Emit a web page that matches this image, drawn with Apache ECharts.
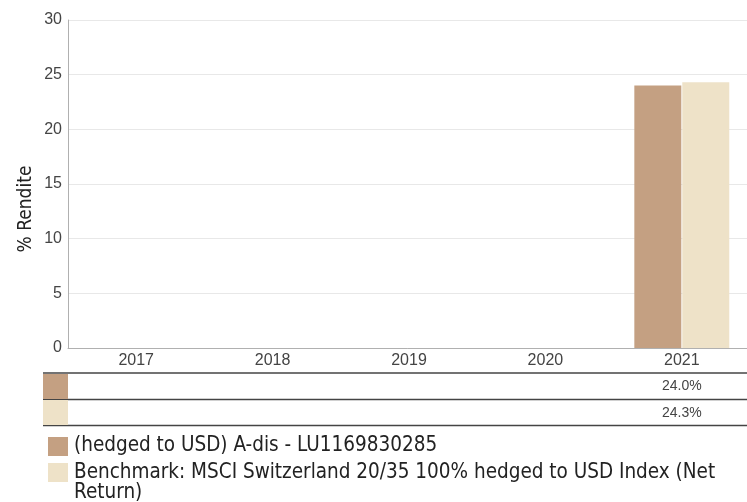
<!DOCTYPE html>
<html lang="de">
<head>
    <meta charset="UTF-8">
    <title>Rendite</title>
    <style>
        html, body { margin: 0; padding: 0; background: #fff; }
    </style>
</head>
<body>
<div id="main" style="width:747px;height:502px;"></div>
<script src="https://cdn.jsdelivr.net/npm/echarts@6/dist/echarts.min.js"></script>
<script>
    // Daten
    var years = ['2017', '2018', '2019', '2020', '2021'];
    var fundValues = [null, null, null, null, 24.0];
    var benchValues = [null, null, null, null, 24.3];
    var yTicks = [0, 5, 10, 15, 20, 25, 30];
    var fundName = '(hedged to USD) A-dis - LU1169830285';
    var benchName = 'Benchmark: MSCI Switzerland 20/35 100% hedged to USD Index (Net Return)';
    var colors = ['#c4a082', '#eee2c8'];

    function fmt(arr) {
        return arr.map(function (v) { return v == null ? '' : v.toFixed(1) + '%'; });
    }

    var axisFont = 'Liberation Sans, Arial, sans-serif';
    var legendFont = 'DejaVu Sans Condensed, DejaVu Sans, sans-serif';

    var myChart = echarts.init(document.getElementById('main'));

    var option = {
        backgroundColor: '#fff',
        animation: false,
        grid: {
            left: 68,
            width: 682,
            top: 20,
            bottom: 154,
            outerBoundsMode: 'none'
        },
        xAxis: [
            {
                type: 'category',
                data: years,
                axisLine: { lineStyle: { color: '#b0b0b0', width: 1 } },
                axisTick: { show: false },
                axisLabel: { color: '#444', fontSize: 16, fontFamily: axisFont, margin: 5 }
            },
            {
                type: 'category',
                data: fmt(fundValues),
                position: 'bottom',
                offset: 25,
                axisLine: { show: false },
                axisTick: { show: false },
                axisLabel: { color: '#444', fontSize: 14, fontFamily: axisFont, margin: 6, interval: 0 }
            },
            {
                type: 'category',
                data: fmt(benchValues),
                position: 'bottom',
                offset: 52,
                axisLine: { show: false },
                axisTick: { show: false },
                axisLabel: { color: '#444', fontSize: 14, fontFamily: axisFont, margin: 6, interval: 0 }
            }
        ],
        yAxis: {
            type: 'value',
            min: yTicks[0],
            max: yTicks[yTicks.length - 1],
            interval: 5,
            axisLine: { show: true, lineStyle: { color: '#b0b0b0', width: 1 } },
            axisTick: { show: false },
            axisLabel: { color: '#444', fontSize: 16, fontFamily: axisFont, margin: 6 },
            splitLine: { lineStyle: { color: '#e8e8e8', width: 1 } }
        },
        series: [
            {
                name: fundName,
                type: 'bar',
                barWidth: 47,
                barGap: '2%',
                itemStyle: { color: colors[0] },
                data: fundValues
            },
            {
                name: benchName,
                type: 'bar',
                barWidth: 47,
                barGap: '2%',
                itemStyle: { color: colors[1] },
                data: benchValues
            }
        ],
        graphic: [
            // Achsentitel
            {
                type: 'text',
                x: 26,
                y: 209,
                rotation: Math.PI / 2,
                style: {
                    text: '% Rendite',
                    fill: '#222',
                    fontSize: 19,
                    fontFamily: legendFont,
                    align: 'center',
                    verticalAlign: 'middle'
                }
            },
            // Tabelle unter der Grafik
            { type: 'line', shape: { x1: 43, y1: 373, x2: 747, y2: 373 }, style: { stroke: '#444', lineWidth: 1.5 } },
            { type: 'line', shape: { x1: 43, y1: 399.5, x2: 747, y2: 399.5 }, style: { stroke: '#444', lineWidth: 1.5 } },
            { type: 'line', shape: { x1: 43, y1: 425.5, x2: 747, y2: 425.5 }, style: { stroke: '#444', lineWidth: 1.5 } },
            { type: 'rect', shape: { x: 43, y: 374, width: 25, height: 25 }, style: { fill: colors[0] } },
            { type: 'rect', shape: { x: 43, y: 400, width: 25, height: 25 }, style: { fill: colors[1] } },
            // Legende
            { type: 'rect', shape: { x: 48, y: 437, width: 20, height: 19 }, style: { fill: colors[0] } },
            {
                type: 'text', x: 74, y: 446,
                style: { text: fundName, fill: '#222', fontSize: 20.5, fontFamily: legendFont, verticalAlign: 'middle' }
            },
            { type: 'rect', shape: { x: 48, y: 463, width: 20, height: 19 }, style: { fill: colors[1] } },
            {
                type: 'text', x: 74, y: 463,
                style: {
                    text: benchName, fill: '#222', fontSize: 20.5, fontFamily: legendFont,
                    width: 660, overflow: 'break', lineHeight: 20, verticalAlign: 'top'
                }
            }
        ]
    };

    myChart.setOption(option);
</script>
</body>
</html>
